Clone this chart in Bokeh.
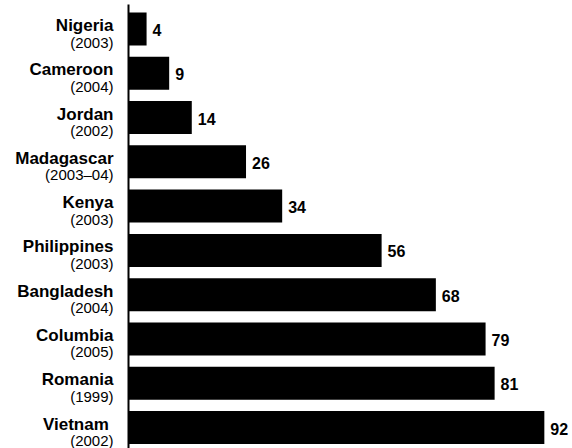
from bokeh.plotting import figure
from bokeh.models import Range1d, ColumnDataSource
from bokeh.core.properties import value
from bokeh.embed import file_html
from bokeh.resources import INLINE

countries = ["Nigeria", "Cameroon", "Jordan", "Madagascar", "Kenya",
             "Philippines", "Bangladesh", "Columbia", "Romania", "Vietnam\u00a0"]
years = ["(2003)", "(2004)", "(2002)", "(2003\u201304)", "(2003)",
         "(2003)", "(2004)", "(2005)", "(1999)", "(2002)"]
values = [4, 9, 14, 26, 34, 56, 68, 79, 81, 92]

idx = list(range(len(countries)))
src = ColumnDataSource(dict(y=idx, v=values, c=countries, yr=years,
                            lbl=[str(v) for v in values], zero=[0] * len(idx)))

W, H = 572, 448
PX_PER_UNIT = 4.52
AXIS_PX = 128
PITCH = 44.28
TOP_CENTER = 28.5

p = figure(width=W, height=H, output_backend="svg", toolbar_location=None,
           x_axis_type=None, y_axis_type=None, min_border=0,
           x_range=Range1d(-AXIS_PX / PX_PER_UNIT, (W - AXIS_PX) / PX_PER_UNIT),
           y_range=Range1d((H - TOP_CENTER) / PITCH, -TOP_CENTER / PITCH))
p.outline_line_color = None
p.grid.visible = False
p.background_fill_color = "white"
p.border_fill_color = "white"

p.hbar(y="y", left="zero", right="v", height=33 / PITCH, source=src,
       fill_color="black", line_color=None)

# vertical axis line
p.segment(x0=[0], y0=[(4 - TOP_CENTER) / PITCH], x1=[0], y1=[(H - TOP_CENTER) / PITCH],
          line_color="black", line_width=2)

font = value("Liberation Sans")
p.text(x="zero", y="y", text="c", source=src, x_offset=-15, y_offset=-3.5,
       text_align="right", text_baseline="alphabetic", text_font=font,
       text_font_size="17px", text_font_style="bold", text_color="black")
p.text(x="zero", y="y", text="yr", source=src, x_offset=-15, y_offset=13,
       text_align="right", text_baseline="alphabetic", text_font=font,
       text_font_size="15px", text_color="black")
p.text(x="v", y="y", text="lbl", source=src, x_offset=6, y_offset=1,
       text_align="left", text_baseline="middle", text_font=font,
       text_font_size="16px", text_font_style="bold", text_color="black")

open("out.html", "w").write(file_html(p, INLINE))
